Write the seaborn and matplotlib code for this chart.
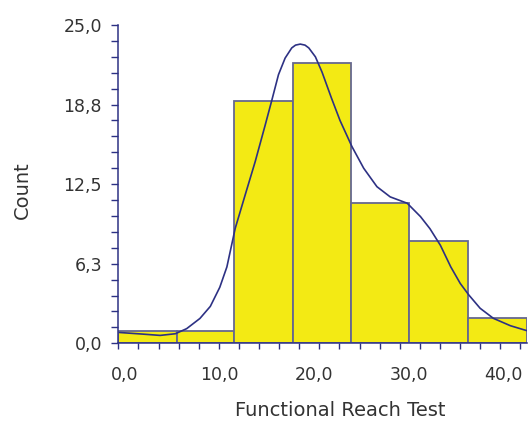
import numpy as np
import pandas as pd
import matplotlib
matplotlib.use("Agg")
import matplotlib.pyplot as plt
import seaborn as sns

# ---- data ----
bin_edges = [-0.71, 5.46, 11.55, 17.72, 23.85, 30.0, 36.2, 42.4]
counts = [1, 1, 19, 22, 11, 8, 2]

curve_x = [-0.6, 1.9, 3.7, 5.3, 6.5, 7.9, 9.0, 10.0, 10.75, 11.63, 12.68, 13.74,
           14.8, 15.5, 16.2, 16.9, 17.6, 18.0, 18.5, 19.0, 19.4, 20.1, 20.8, 21.8,
           22.7, 23.96, 25.2, 26.6, 28.0, 29.8, 31.2, 32.2, 33.3, 34.4, 35.4, 36.3,
           37.5, 38.9, 40.7, 42.4]
curve_y = [0.85, 0.72, 0.62, 0.75, 1.15, 1.95, 2.9, 4.4, 6.0, 9.03, 11.65, 14.27,
           17.15, 19.1, 21.1, 22.4, 23.2, 23.42, 23.5, 23.42, 23.2, 22.5, 21.3, 19.25,
           17.5, 15.45, 13.75, 12.3, 11.5, 11.0, 9.95, 9.0, 7.7, 6.0, 4.7, 3.8,
           2.75, 1.96, 1.38, 1.0]

x_tick_values = [0, 10, 20, 30, 40]
x_tick_labels = ["0,0", "10,0", "20,0", "30,0", "40,0"]
y_tick_values = [0, 6.25, 12.5, 18.75, 25]
y_tick_labels = ["0,0", "6,3", "12,5", "18,8", "25,0"]

x_label = "Functional Reach Test"
y_label = "Count"

# ---- styling ----
sns.set_style("ticks")
plt.rcParams["font.family"] = ["DejaVu Sans"]

navy = "#2d3184"
bar_fill = "#f3ea14"
bar_edge = "#66688f"
text_col = "#333333"

fig = plt.figure(figsize=(5.30, 4.21), dpi=100)
ax = fig.add_axes([118.3 / 530, (421 - 343.3) / 421, 408.7 / 530, 318.3 / 421])

centers = [(bin_edges[i] + bin_edges[i + 1]) / 2 for i in range(len(counts))]
hist_df = pd.DataFrame({"x": centers, "w": counts})
sns.histplot(data=hist_df, x="x", weights="w", bins=bin_edges, ax=ax,
             color=bar_fill, edgecolor=bar_edge, linewidth=1.3, alpha=1.0)

curve_df = pd.DataFrame({"x": curve_x, "y": curve_y})
sns.lineplot(data=curve_df, x="x", y="y", ax=ax, color=navy, linewidth=1.2,
             sort=False, estimator=None, solid_joinstyle="round")

ax.set_xlim(-0.72, 42.45)
ax.set_ylim(0, 25)

# x axis: labels without ticks, ticks as minor
ax.set_xticks(x_tick_values)
ax.set_xticklabels(x_tick_labels)
ax.set_xticks(np.linspace(-0.72, 41.75, 21), minor=True)
ax.tick_params(axis="x", which="major", length=0, pad=16, labelsize=12.5, labelcolor=text_col)
ax.tick_params(axis="x", which="minor", length=4.5, width=1.0, color=navy, direction="out")

# y axis
ax.set_yticks(y_tick_values)
ax.set_yticklabels(y_tick_labels)
ax.set_yticks(np.arange(0, 25.01, 1.25), minor=True)
ax.tick_params(axis="y", which="both", length=4.7, width=1.0, color=navy, direction="out")
ax.tick_params(axis="y", which="major", pad=7, labelsize=12.5, labelcolor=text_col)

for s in ["top", "right"]:
    ax.spines[s].set_visible(False)
for s in ["left", "bottom"]:
    ax.spines[s].set_color(navy)
    ax.spines[s].set_linewidth(1.1)

ax.set_xlabel(x_label, fontsize=14, color=text_col)
ax.set_ylabel(y_label, fontsize=14, color=text_col)
ax.xaxis.set_label_coords((340 - 118.3) / 408.7, (343.3 - 411) / 318.3)
ax.xaxis.label.set_va("center")
ax.yaxis.set_label_coords((22 - 118.3) / 408.7, (343.3 - 190) / 318.3)
ax.yaxis.label.set_va("center")

fig.savefig("out.png", dpi=100)
